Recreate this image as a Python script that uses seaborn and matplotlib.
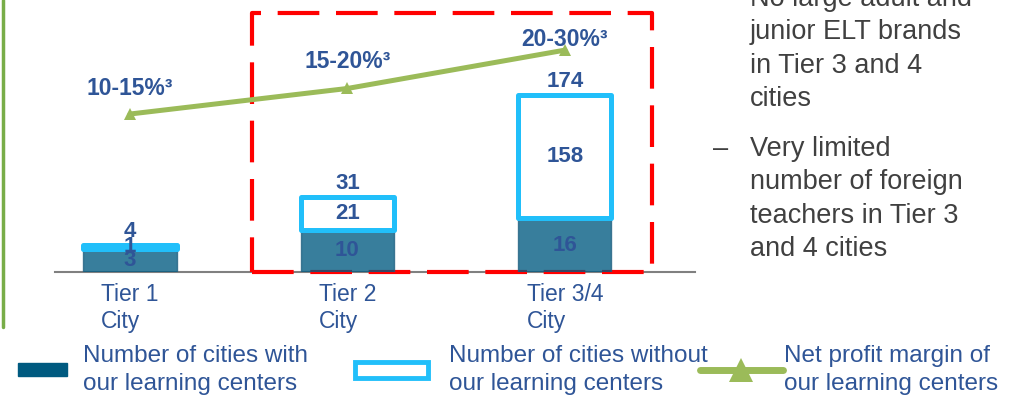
import numpy as np
import matplotlib
matplotlib.use("Agg")
import matplotlib.pyplot as plt
import matplotlib.transforms as mtransforms
from matplotlib.patches import Rectangle, Patch
from matplotlib.lines import Line2D
import seaborn as sns

# ---- data -------------------------------------------------------------
tiers = ["Tier 1\nCity", "Tier 2\nCity", "Tier 3/4\nCity"]
with_centers = [3, 10, 16]          # cities with our learning centers
without_centers = [1, 21, 158]      # cities without our learning centers
totals = [4, 31, 174]
margin_mid = [12.5, 17.5, 25.0]     # mid-point of the net profit margin range (%)
margin_labels = ["10-15%³", "15-20%³", "20-30%³"]

notes_a = ["No large adult and", "junior ELT brands", "in Tier 3 and 4", "cities"]
notes_b = ["Very limited", "number of foreign", "teachers in Tier 3", "and 4 cities"]

legend_labels = ["Number of cities with\nour learning centers",
                 "Number of cities without\nour learning centers",
                 "Net profit margin of\nour learning centers"]

# ---- style ------------------------------------------------------------
sns.set_theme(style="white")
plt.rcParams["font.family"] = ["Liberation Sans", "DejaVu Sans"]

BLUE = "#2F5597"
TEAL = "#005A80"
CYAN = "#21BFFA"
GREEN = "#9BBB59"
RED = "#FF0000"
GRAY_TEXT = "#404040"

W, H = 1010, 395
fig = plt.figure(figsize=(W / 100, H / 100), dpi=100)


def fx(px):
    return px / W


def fy(py):
    return 1 - py / H


ax = fig.add_axes([fx(55), fy(272), 640 / W, 272 / H])
bar_w = 0.428

# stacked bars: filled part = cities with centers, outlined part = without
sns.barplot(x=tiers, y=with_centers, color=TEAL, saturation=1, alpha=0.78,
            width=bar_w, edgecolor="#1F5F80", linewidth=1.0, errorbar=None,
            ax=ax, zorder=3)
pos = np.arange(len(tiers))
ax.bar(pos, without_centers, bottom=with_centers, width=bar_w, color="white",
       edgecolor=CYAN, linewidth=3.6, joinstyle="round", zorder=4)

ax.set_yscale("function", functions=(np.sqrt, np.square))
ax.set_ylim(0, 411)

# value labels
for i in range(len(tiers)):
    ax.annotate(str(totals[i]), (pos[i], totals[i]), xytext=(0, 6),
                textcoords="offset points", ha="center", va="baseline",
                fontsize=16, fontweight="bold", color=BLUE, zorder=6)
    lo_mid = (np.sqrt(with_centers[i]) / 2) ** 2
    hi_mid = ((np.sqrt(with_centers[i]) + np.sqrt(totals[i])) / 2) ** 2
    ax.text(pos[i], lo_mid, str(with_centers[i]), ha="center", va="center",
            fontsize=16, fontweight="bold", color=BLUE, zorder=6)
    ax.text(pos[i], hi_mid, str(without_centers[i]), ha="center", va="center",
            fontsize=16, fontweight="bold", color=BLUE, zorder=6)

# dashed highlight around the lower-tier cities
blend = mtransforms.blended_transform_factory(ax.transData, ax.transAxes)
ax.add_patch(Rectangle((0.561, 0), 2.40 - 0.561, 0.952, transform=blend,
                       fill=False, edgecolor=RED, linewidth=3,
                       linestyle=(0, (10, 4)), joinstyle="round",
                       clip_on=False, zorder=2.6))

# net profit margin line on a secondary axis
ax2 = ax.twinx()
sns.lineplot(x=tiers, y=margin_mid, sort=False, color=GREEN, linewidth=3.6,
             marker="^", markersize=9, markeredgewidth=0, ax=ax2)
ax2.set_ylim(-18.4, 34.8)
lift = [14, 15, 3]
for i in range(len(tiers)):
    ax2.annotate(margin_labels[i], (pos[i], margin_mid[i]), xytext=(0, lift[i]),
                 textcoords="offset points", ha="center", va="baseline",
                 fontsize=16.5, fontweight="bold", color=BLUE)
ax2.set_axis_off()

# axes cosmetics
ax.set_xticks(pos, tiers)
ax.set_xlim(-0.345, 2.598)
ax.set_yticks([])
ax.set_xlabel("")
ax.set_ylabel("")
for s in ["top", "right", "left"]:
    ax.spines[s].set_visible(False)
ax.spines["bottom"].set_color("#808080")
ax.spines["bottom"].set_linewidth(1.5)
ax.tick_params(axis="x", length=0, pad=8, labelsize=16.5, labelcolor=BLUE)
for t in ax.get_xticklabels():
    t.set_multialignment("left")

# left green rule
fig.add_artist(Line2D([fx(3), fx(3)], [fy(0), fy(327)], color="#78AD48",
                      linewidth=2.5))

# side notes
step = 33.3
for k, line in enumerate(notes_a):
    fig.text(fx(750), fy(6 + k * step), line, fontsize=19.5, color=GRAY_TEXT,
             va="baseline", ha="left")
fig.text(fx(713), fy(156), "–", fontsize=19.5, color=GRAY_TEXT,
         va="baseline", ha="left")
for k, line in enumerate(notes_b):
    fig.text(fx(750), fy(156 + k * step), line, fontsize=19.5, color=GRAY_TEXT,
             va="baseline", ha="left")

# legend, one entry per block
handles = [
    Patch(facecolor=TEAL, edgecolor=TEAL),
    Patch(facecolor="white", edgecolor=CYAN, linewidth=3.5),
    Line2D([], [], color=GREEN, linewidth=5, marker="^", markersize=17,
           markeredgewidth=0),
]
anchors = [(18, 370), (355, 370), (700, 370)]
hlen = [2.0, 3.0, 3.4]
hhgt = [0.46, 0.6, 0.7]
hpad = [0.68, 0.85, 0.05]
for h, lab, (ax_px, ay_px), hl, hh, hp in zip(handles, legend_labels, anchors,
                                             hlen, hhgt, hpad):
    leg = fig.legend([h], [lab], loc="center left",
                     bbox_to_anchor=(fx(ax_px), fy(ay_px)), frameon=False,
                     fontsize=17.5, labelcolor=BLUE, handlelength=hl,
                     handleheight=hh, handletextpad=hp, borderpad=0,
                     borderaxespad=0)
    for t in leg.get_texts():
        t.set_linespacing(1.3)

fig.savefig("out.png", dpi=100)
